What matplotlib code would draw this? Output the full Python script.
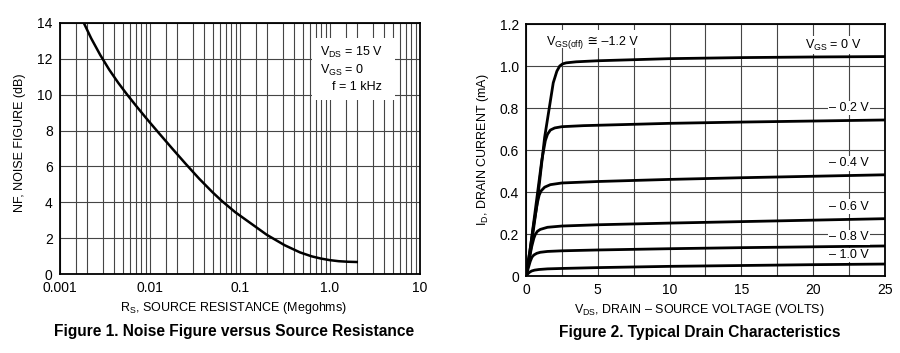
import numpy as np
import matplotlib
matplotlib.use("Agg")
import matplotlib.pyplot as plt
from matplotlib.patches import Rectangle
from matplotlib.ticker import FixedLocator, NullFormatter

plt.rcParams['font.family'] = ['Liberation Sans', 'DejaVu Sans']
plt.rcParams['mathtext.fontset'] = 'custom'
plt.rcParams['mathtext.rm'] = 'Liberation Sans'
plt.rcParams['mathtext.it'] = 'Liberation Sans:italic'
plt.rcParams['mathtext.bf'] = 'Liberation Sans:bold'

# Figure 1: noise figure vs source resistance
rs = [0.00185, 0.00224, 0.00282, 0.00355, 0.00447, 0.00562, 0.00708, 0.00891, 0.01,
      0.0126, 0.0178, 0.0251, 0.0355, 0.0501, 0.0631, 0.0891, 0.126, 0.2, 0.316,
      0.468, 0.631, 0.794, 1.0, 1.26, 1.58, 2.0]
nf = [14.0, 13.13, 12.21, 11.39, 10.66, 10.0, 9.37, 8.76, 8.46,
      7.87, 7.0, 6.15, 5.32, 4.56, 4.09, 3.46, 2.92, 2.2, 1.62,
      1.22, 1.0, 0.88, 0.79, 0.73, 0.70, 0.685]
nf_xticks = [0.001, 0.01, 0.1, 1.0, 10]
nf_xticklabels = ['0.001', '0.01', '0.1', '1.0', '10']
nf_yticks = [0, 2, 4, 6, 8, 10, 12, 14]

# Figure 2: drain characteristics, one curve per VGS
vgs_labels = ['V$_\\mathregular{GS}$ = 0 V', '– 0.2 V', '– 0.4 V', '– 0.6 V', '– 0.8 V', '– 1.0 V']
vds = [
    [0, 0.3, 0.8, 1.3, 1.9, 2.15, 2.35, 2.55, 2.8, 3.5, 5, 10, 15, 20, 25],
    [0, 0.3, 0.7, 1.1, 1.35, 1.5, 1.7, 2.0, 2.5, 4, 10, 15, 20, 25],
    [0, 0.25, 0.55, 0.8, 0.92, 1.05, 1.3, 1.7, 2.5, 5, 10, 15, 20, 25],
    [0, 0.2, 0.4, 0.55, 0.65, 0.8, 1.0, 1.5, 2.5, 5, 10, 15, 20, 25],
    [0, 0.15, 0.3, 0.42, 0.55, 0.75, 1.0, 1.5, 2.5, 5, 10, 15, 20, 25],
    [0, 0.1, 0.25, 0.4, 0.6, 0.9, 1.5, 2.5, 5, 10, 15, 20, 25],
]
i_d = [
    [0, 0.11, 0.36, 0.66, 0.92, 0.975, 1.0, 1.01, 1.015, 1.02, 1.025, 1.035, 1.04, 1.043, 1.045],
    [0, 0.13, 0.34, 0.55, 0.645, 0.675, 0.695, 0.705, 0.711, 0.716, 0.727, 0.733, 0.738, 0.743],
    [0, 0.11, 0.25, 0.35, 0.385, 0.405, 0.423, 0.435, 0.443, 0.45, 0.46, 0.468, 0.475, 0.482],
    [0, 0.07, 0.14, 0.18, 0.198, 0.213, 0.222, 0.232, 0.238, 0.244, 0.252, 0.259, 0.266, 0.273],
    [0, 0.035, 0.07, 0.09, 0.1, 0.108, 0.113, 0.117, 0.12, 0.124, 0.13, 0.135, 0.139, 0.143],
    [0, 0.008, 0.018, 0.024, 0.028, 0.031, 0.034, 0.036, 0.04, 0.046, 0.05, 0.054, 0.057],
]
label_pos = [(21.4, 1.1), (22.5, 0.80), (22.5, 0.537), (22.5, 0.33), (22.5, 0.184), (22.5, 0.10)]

grid_kw = dict(color='#454545', lw=0.8)
tick_fs = 10
lab_fs = 9

fig = plt.figure(figsize=(9, 3.53), dpi=100)

# ---- left plot
ax1 = fig.add_axes([0.0663, 0.2229, 0.4, 0.7127])
ax1.set_xscale('log')
ax1.set_xlim(0.001, 10)
ax1.set_ylim(0, 14)
ax1.xaxis.set_major_locator(FixedLocator(nf_xticks))
ax1.set_xticklabels(nf_xticklabels)
minors = [m * 10.0 ** e for e in range(-3, 1) for m in [1.5, 2, 3, 4, 5, 6, 7, 8, 9]]
ax1.xaxis.set_minor_locator(FixedLocator(minors))
ax1.xaxis.set_minor_formatter(NullFormatter())
ax1.set_yticks(nf_yticks)
ax1.grid(True, which='both', **grid_kw)
ax1.plot(rs, nf, color='black', lw=1.8, zorder=4)
ax1.add_patch(Rectangle((0.701, 0.693), 0.23, 0.246, transform=ax1.transAxes,
                        facecolor='white', edgecolor='none', zorder=3))
ax1.text(0.723, 0.88, 'V$_\\mathregular{DS}$ = 15 V', transform=ax1.transAxes,
         fontsize=lab_fs, va='center', zorder=5)
ax1.text(0.723, 0.812, 'V$_\\mathregular{GS}$ = 0', transform=ax1.transAxes,
         fontsize=lab_fs, va='center', zorder=5)
ax1.text(0.756, 0.744, 'f = 1 kHz', transform=ax1.transAxes,
         fontsize=lab_fs, va='center', zorder=5)

# ---- right plot
ax2 = fig.add_axes([0.5844, 0.2181, 0.3989, 0.7139])
ax2.set_xlim(0, 25)
ax2.set_ylim(0, 1.2)
ax2.set_xticks([0, 5, 10, 15, 20, 25])
ax2.set_xticks(np.arange(0, 25.1, 2.5), minor=True)
ax2.set_yticks([0, 0.2, 0.4, 0.6, 0.8, 1.0, 1.2])
ax2.set_yticklabels(['0', '0.2', '0.4', '0.6', '0.8', '1.0', '1.2'])
ax2.grid(True, which='both', **grid_kw)
for v, c in zip(vds, i_d):
    ax2.plot(v, c, color='black', lw=2.0, zorder=4, solid_joinstyle='round')
for lab, (x, y) in zip(vgs_labels, label_pos):
    ax2.text(x, y, lab, ha='center', va='center', fontsize=lab_fs, zorder=5,
             bbox=dict(facecolor='white', edgecolor='none', pad=1.0))

# pinch-off label: subscript part in mathtext, the rest as plain text so ≅ can fall back
ax2.add_patch(Rectangle((0.05, 0.905), 0.26, 0.07, transform=ax2.transAxes,
                        facecolor='white', edgecolor='none', zorder=3))
t_off = ax2.text(1.4, 1.10, 'V$_\\mathregular{GS(off)}$', ha='left', va='baseline',
                 fontsize=lab_fs, zorder=5)
fig.canvas.draw()
bb = t_off.get_window_extent()
x_next = ax2.transData.inverted().transform((bb.x1, 0))[0]
ax2.text(x_next, 1.10, ' ≅ –1.2 V', ha='left', va='baseline', fontsize=lab_fs, zorder=5,
         family=['Liberation Sans', 'DejaVu Sans'])

for ax in (ax1, ax2):
    ax.set_axisbelow(True)
    ax.tick_params(which='both', length=0, labelsize=tick_fs, pad=5)
    for s in ax.spines.values():
        s.set_linewidth(1.3)
        s.set_zorder(6)

# axis labels and captions
fig.text(0.260, 0.1275, 'R$_\\mathregular{S}$, SOURCE RESISTANCE (Megohms)',
         ha='center', va='center', fontsize=lab_fs)
fig.text(0.0222, 0.595, 'NF, NOISE FIGURE (dB)', rotation=90,
         ha='center', va='center', fontsize=lab_fs)
fig.text(0.777, 0.122, 'V$_\\mathregular{DS}$, DRAIN – SOURCE VOLTAGE (VOLTS)',
         ha='center', va='center', fontsize=lab_fs)
fig.text(0.5367, 0.575, 'I$_\\mathregular{D}$, DRAIN CURRENT (mA)', rotation=90,
         ha='center', va='center', fontsize=lab_fs)
fig.text(0.260, 0.0623, 'Figure 1. Noise Figure versus Source Resistance',
         ha='center', va='center', fontsize=11.2, fontweight='bold')
fig.text(0.778, 0.0567, 'Figure 2. Typical Drain Characteristics',
         ha='center', va='center', fontsize=11.2, fontweight='bold')

fig.savefig('out.png', dpi=100)
